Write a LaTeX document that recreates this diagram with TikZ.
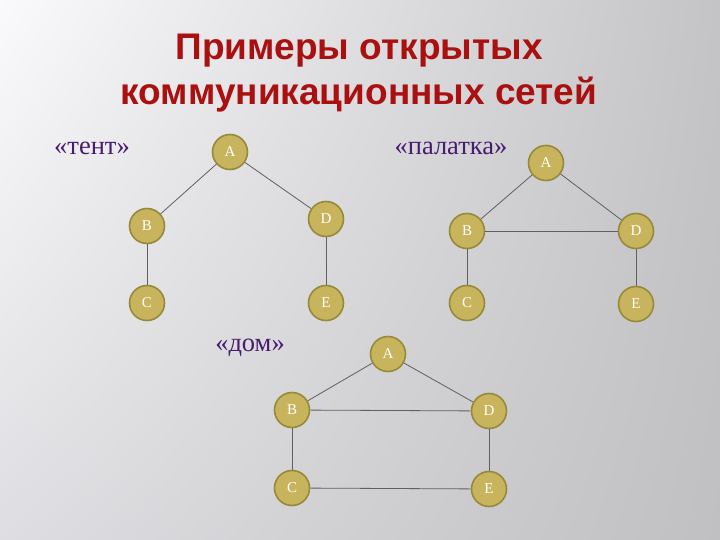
\documentclass[tikz,border=0pt]{standalone}
\usepackage{fontspec}
\setmainfont{Liberation Serif}
\newfontfamily\titlefont{Liberation Sans}
\usetikzlibrary{shadings}
\definecolor{nodefill}{RGB}{200,180,92}
\definecolor{nodeedge}{RGB}{150,138,58}
\definecolor{edgecol}{RGB}{95,95,100}
\definecolor{labelcol}{RGB}{72,28,110}
\definecolor{titlecol}{RGB}{170,16,16}
\definecolor{bgUL}{RGB}{250,250,252}
\definecolor{bgUR}{RGB}{196,196,198}
\definecolor{bgLL}{RGB}{222,222,226}
\definecolor{bgLR}{RGB}{192,192,194}
\tikzset{
  vert/.style={circle, fill=nodefill, draw=nodeedge, line width=1.6pt, minimum size=35pt, inner sep=0pt, text=white, font=\fontsize{15}{15}\selectfont},
  link/.style={draw=edgecol, line width=0.8pt},
  netlabel/.style={text=labelcol, font=\fontsize{26.5}{26.5}\selectfont, inner sep=0pt}
}
\begin{document}
\begin{tikzpicture}[x=1pt,y=-1pt]
\useasboundingbox (0,0) rectangle (720,540);
\shade[upper left=bgUL, upper right=bgUR, lower left=bgLL, lower right=bgLR] (0,0) rectangle (720,540);
% title
\node[text=titlecol, align=center, font=\titlefont\bfseries\fontsize{37}{45}\selectfont] (title) at (359,73.5) {Примеры открытых\\коммуникационных сетей};
% labels
\node[netlabel] (lt) at (92,148) {«тент»};
\node[netlabel] (lp) at (451,148) {«палатка»};
\node[netlabel] (ld) at (250,348) {«дом»};
% tent
\node[vert] (tA) at (230,152) {A};
\node[vert] (tB) at (147,226) {B};
\node[vert] (tD) at (326,219) {D};
\node[vert] (tC) at (147,303) {C};
\node[vert] (tE) at (326,303) {E};
\draw[link] (tA) -- (tB);
\draw[link] (tA) -- (tD);
\draw[link] (tB) -- (tC);
\draw[link] (tD) -- (tE);
% palatka
\node[vert] (pA) at (546,163) {A};
\node[vert] (pB) at (467,231) {B};
\node[vert] (pD) at (636,231) {D};
\node[vert] (pC) at (467,303) {C};
\node[vert] (pE) at (636,304) {E};
\draw[link] (pA) -- (pB);
\draw[link] (pA) -- (pD);
\draw[link] (pB) -- (pD);
\draw[link] (pB) -- (pC);
\draw[link] (pD) -- (pE);
% dom
\node[vert] (dA) at (388,354) {A};
\node[vert] (dB) at (292,410) {B};
\node[vert] (dD) at (489,411) {D};
\node[vert] (dC) at (292,488) {C};
\node[vert] (dE) at (489,489) {E};
\draw[link] (dA) -- (dB);
\draw[link] (dA) -- (dD);
\draw[link] (dB) -- (dD);
\draw[link] (dB) -- (dC);
\draw[link] (dD) -- (dE);
\draw[link] (dC) -- (dE);
\end{tikzpicture}
\end{document}
